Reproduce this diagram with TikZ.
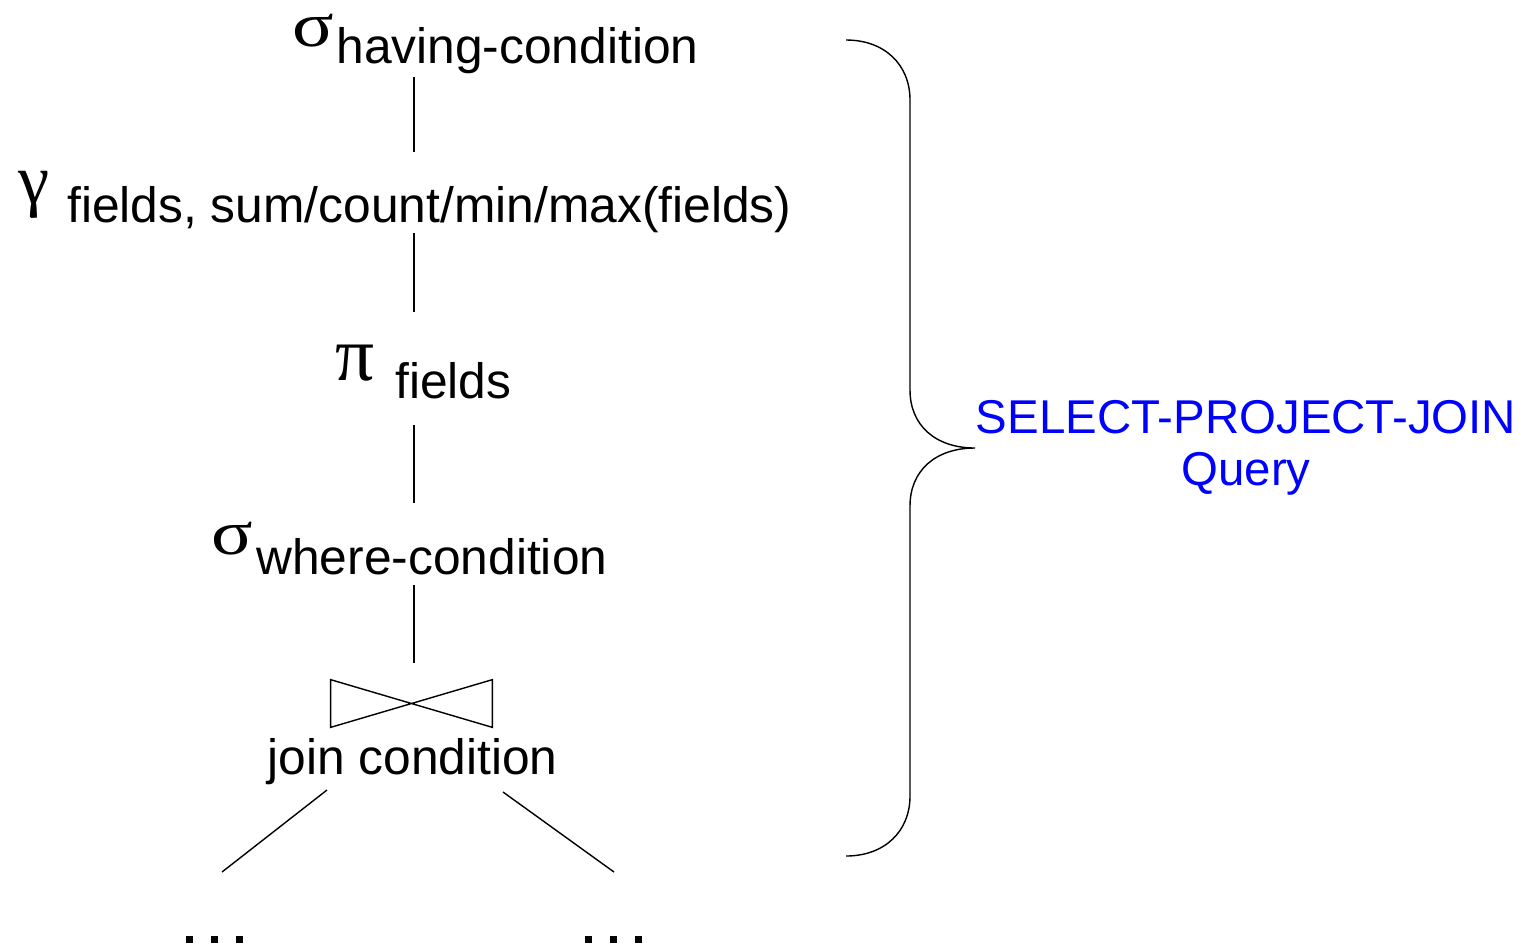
\documentclass[tikz,border=0pt]{standalone}
\usepackage{fontspec}
\setmainfont{Liberation Sans}
\newfontfamily\grk{Liberation Serif}

\tikzset{
  txt/.style={inner sep=0pt, anchor=base west, font=\fontsize{28.3}{34}\selectfont},
  op/.style={inner sep=0pt, anchor=base west, font=\grk\fontsize{44}{50}\selectfont},
  spj/.style={inner sep=0pt, anchor=base, text=blue, font=\fontsize{27}{32}\selectfont},
  edge/.style={line width=0.8pt},
}
\newcommand{\sig}{\scalebox{1.22}[1]{\fontsize{36}{42}\selectfont σ}}

\begin{document}
\begin{tikzpicture}[x=0.02cm, y=-0.02cm]
      \useasboundingbox (0,0) rectangle (1534,944);
      % Define nodes
      \node[op]  (sighave) at (292,46)  {\sig};
      \node[txt] (having)  at (336,63)  {having-condition};
      \node[op, font=\grk\fontsize{40}{46}\selectfont] (gam) at (18,203) {γ};
      \node[txt] (grp)     at (67,222)  {fields, sum/count/min/max(fields)};
      \node[op]  (pi)      at (335,380) {π};
      \node[txt] (proj)    at (395,398) {fields};
      \node[op]  (sigwhr)  at (211,554) {\sig};
      \node[txt] (where)   at (256,574) {where-condition};
      \node[minimum width=3.22cm, minimum height=0.94cm, inner sep=0pt] (bow) at (411.5,703.5) {};
      \node[txt] (jcond)   at (267,774) {join condition};
      \node[spj] (spjq)    at (1246,433) {SELECT-PROJECT-JOIN};
      \node[spj] (query)   at (1246,485) {Query};
      % Line ends
      \coordinate (h1) at (414,77);  \coordinate (g1) at (414,152);
      \coordinate (g2) at (414,233); \coordinate (p1) at (414,312);
      \coordinate (p2) at (414,425); \coordinate (w1) at (414,503);
      \coordinate (w2) at (414,585); \coordinate (j1) at (414,663);
      \coordinate (jl) at (327,790); \coordinate (ll) at (222,872);
      \coordinate (jr) at (503,792); \coordinate (rr) at (614,872);
      % Connect nodes
      \draw[edge] (h1) -- (g1);
      \draw[edge] (g2) -- (p1);
      \draw[edge] (p2) -- (w1);
      \draw[edge] (w2) -- (j1);
      \draw[edge] (jl) -- (ll);
      \draw[edge] (jr) -- (rr);
      % Join symbol
      \draw[edge] (bow.north west) -- (bow.south east) -- (bow.north east)
                  -- (bow.south west) -- cycle;
      % Dots
      \foreach \x in {186,211,236,585,610,635}
        \fill (\x,936) rectangle ++(7,7);
      % Brace
      \draw[edge] (846,40) .. controls (885,40) and (910,65) .. (910,100)
                  -- (910,390) .. controls (910,425) and (935,448) .. (975,448)
                  .. controls (935,448) and (910,471) .. (910,506)
                  -- (910,796) .. controls (910,831) and (885,856) .. (846,856);
    \end{tikzpicture}
\end{document}
